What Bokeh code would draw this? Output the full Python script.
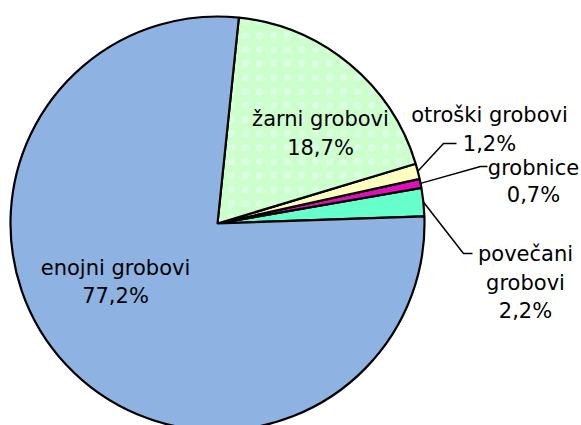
import math
from bokeh.plotting import figure
from bokeh.models import Range1d, ColumnDataSource
from bokeh.embed import file_html
from bokeh.resources import INLINE
from bokeh.core.properties import value

# ---- data ----
categories = ["povečani grobovi", "grobnice", "otroški grobovi", "žarni grobovi", "enojni grobovi"]
percent = [2.2, 0.7, 1.2, 18.7, 77.2]
pct_labels = ["2,2%", "0,7%", "1,2%", "18,7%", "77,2%"]
name_lines = [["povečani", "grobovi"], ["grobnice"], ["otroški grobovi"], ["žarni grobovi"], ["enojni grobovi"]]
colors = ["#66FFCC", "#E010B8", "#FFFFC0", "#CCFFCC", "#8EB3E2"]
patterns = [" ", " ", " ", ".", " "]

# ---- layout (pixel positions, picture coords) ----
W, H = 581, 425
CX, CY = 217, H - 223
R = 207
START_DEG = 2.0
FONT = "DejaVu Sans"
FSIZE = "21px"
label_x = [525, 533, 489, 320, 115]
label_base = [[253, 282, 310], [167, 194], [114, 143], [118, 147], [267, 295]]
leaders = [((463, 253), (472, 253)), ((480, 166), (487, 166)), ((443, 143), (456, 143)), None, None]

total = sum(percent)
starts, ends, mids = [], [], []
a = math.radians(START_DEG)
for v in percent:
    span = 2 * math.pi * v / total
    starts.append(a)
    ends.append(a + span)
    mids.append(a + span / 2)
    a += span

p = figure(width=W, height=H, output_backend="svg", toolbar_location=None,
           x_range=Range1d(0, W), y_range=Range1d(0, H),
           min_border=0, outline_line_color=None)
p.axis.visible = False
p.grid.visible = False
p.background_fill_color = "white"
p.border_fill_color = "white"

src = ColumnDataSource(dict(x=[CX] * len(percent), y=[CY] * len(percent),
                            start=starts, end=ends, color=colors, pat=patterns))
p.wedge(x="x", y="y", radius=R, start_angle="start", end_angle="end", source=src,
        fill_color="color", line_color="black", line_width=2.2,
        hatch_pattern="pat", hatch_color="#EAFFFF", hatch_alpha=0.45,
        hatch_scale=14, hatch_weight=0.8)

for i, ld in enumerate(leaders):
    if ld is None:
        continue
    sx = CX + R * math.cos(mids[i])
    sy = CY + R * math.sin(mids[i])
    (ex, ey), (fx, fy) = ld
    p.line([sx, ex, fx], [sy, H - ey, H - fy], line_color="black", line_width=1.5)

tx, ty, tt = [], [], []
for i in range(len(categories)):
    lines = name_lines[i] + [pct_labels[i]]
    for ln, b in zip(lines, label_base[i]):
        tx.append(label_x[i])
        ty.append(H - b)
        tt.append(ln)
p.text(x=tx, y=ty, text=tt, text_align="center", text_baseline="alphabetic",
       text_font=value(FONT), text_font_size=FSIZE, text_color="black")

open("out.html", "w").write(file_html(p, INLINE))
